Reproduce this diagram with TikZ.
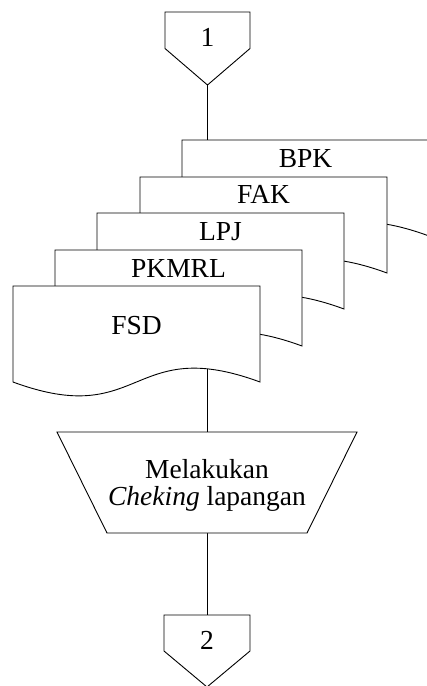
\documentclass[tikz,border=0pt]{standalone}
\usepackage{fontspec}
\setmainfont{Liberation Serif}
\begin{document}
\begin{tikzpicture}[x=1pt,y=-1pt,line width=0.9pt,
  shapebox/.style={inner sep=0pt,outer sep=0pt},
  docbox/.style={shapebox,minimum width=247pt,minimum height=96pt,anchor=north west},
  outline/.style={draw=black,fill=white,line join=miter},
  flow/.style={draw=black},
  lbl/.style={font=\fontsize{27.5}{28}\selectfont,inner sep=0pt,anchor=base}]

\useasboundingbox (0,0) rectangle (427,686);
\clip (0,0) rectangle (427,686);

% frames that carry the anchors of every symbol
\node[shapebox,minimum width=85pt,minimum height=73pt] (on1) at (207.5,48.5) {};
\node[docbox] (bpk)   at (182,140) {};
\node[docbox] (fak)   at (140,177) {};
\node[docbox] (lpj)   at (97,213) {};
\node[docbox] (pkmrl) at (55,250) {};
\node[docbox] (fsd)   at (13,286) {};
\node[shapebox,minimum width=300pt,minimum height=101pt] (proc) at (207,482.5) {};
\node[shapebox,minimum width=86pt,minimum height=72pt] (on2) at (207,651) {};

% flow lines (drawn first, the documents cover their upper ends)
\draw[flow] (on1.south) -- (on1.south |- bpk.north);
\draw[flow] (fsd.center -| proc.north) -- (proc.north);
\draw[flow] (proc.south) -- (on2.north);

% off-page connectors
\draw[outline] (on1.north west) -- (on1.north east) -- (on1.east) -- (on1.south) -- (on1.west) -- cycle;
\draw[outline] (on2.north west) -- (on2.north east) -- (on2.east) -- (on2.south) -- (on2.west) -- cycle;

% stacked documents, back to front
\foreach \d in {bpk,fak,lpj,pkmrl,fsd}
  \draw[outline] (\d.north west) -- (\d.south west)
    .. controls +(130,48) and +(-130,-48) .. (\d.south east)
    -- (\d.north east) -- cycle;

% manual operation
\draw[outline] (proc.north west) -- (proc.north east)
  -- ([xshift=-50pt]proc.south east) -- ([xshift=50pt]proc.south west) -- cycle;

% texts
\node[lbl] (t1) at ([yshift=-34pt]on1.north) {1};
\node[lbl] (t2) at ([yshift=-34pt]on2.north) {2};
\node[lbl] (tbpk)   at ([yshift=-27pt]bpk.north) {BPK};
\node[lbl] (tfak)   at ([yshift=-26pt]fak.north) {FAK};
\node[lbl] (tlpj)   at ([yshift=-27pt]lpj.north) {LPJ};
\node[lbl] (tpkmrl) at ([yshift=-27pt]pkmrl.north) {PKMRL};
\node[lbl] (tfsd)   at ([yshift=-48pt]fsd.north) {FSD};
\node[lbl] (tproc1) at (207,478) {Melakukan};
\node[lbl] (tproc2) at (207,505) {\textit{Cheking} lapangan};
\end{tikzpicture}
\end{document}
